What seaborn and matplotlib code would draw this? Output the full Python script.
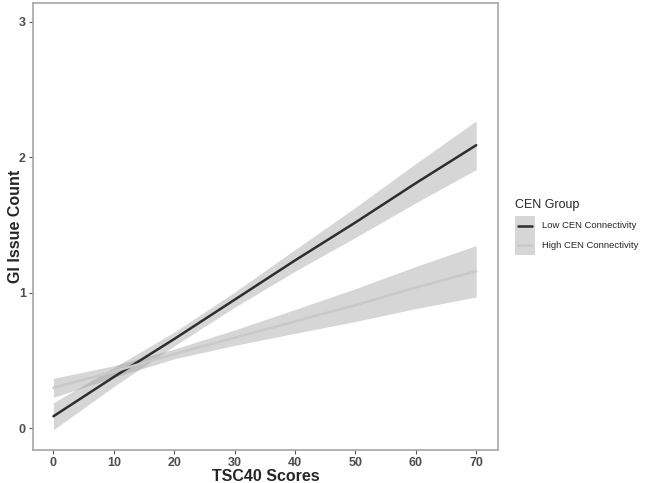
import matplotlib
matplotlib.use("Agg")
import matplotlib.pyplot as plt
import numpy as np
import pandas as pd
import seaborn as sns
from matplotlib.lines import Line2D
from matplotlib.patches import Patch, Rectangle

# values
scores = [0, 10, 20, 30, 40, 50, 60, 70]
groups = ['Low CEN Connectivity', 'High CEN Connectivity']
fit_low = [0.09, 0.38, 0.66, 0.95, 1.24, 1.52, 1.81, 2.09]
fit_high = [0.30, 0.42, 0.55, 0.67, 0.79, 0.91, 1.04, 1.16]
halfwidth_low = [0.10, 0.070, 0.051, 0.056, 0.080, 0.111, 0.145, 0.18]
halfwidth_high = [0.07, 0.043, 0.036, 0.057, 0.088, 0.121, 0.155, 0.19]

line_colors = {'Low CEN Connectivity': '#2e2e2e',
               'High CEN Connectivity': '#c9c9c9'}
band_color = '#999999'


class KeyHandler:
    """ggplot-like legend key: grey box with a line through the middle."""

    def legend_artist(self, legend, orig_handle, fontsize, handlebox):
        patch, line = orig_handle
        x0, y0 = -handlebox.xdescent, -handlebox.ydescent
        w, h = handlebox.width, handlebox.height
        tr = handlebox.get_transform()
        rect = Rectangle((x0, y0), w, h, facecolor=patch.get_facecolor(),
                         linewidth=0, transform=tr)
        ln = Line2D([x0 + 0.17 * w, x0 + 0.83 * w], [y0 + h / 2] * 2,
                    color=line.get_color(), linewidth=line.get_linewidth(),
                    transform=tr)
        handlebox.add_artist(rect)
        handlebox.add_artist(ln)
        return rect


df = pd.DataFrame({
    'TSC40': scores * 2,
    'GI': fit_low + fit_high,
    'group': [groups[0]] * len(scores) + [groups[1]] * len(scores),
})

sns.set_style('white')
plt.rcParams['font.family'] = ['Liberation Sans', 'DejaVu Sans']

fig = plt.figure(figsize=(6.45, 4.83), dpi=100)
ax = fig.add_axes([0.051, 0.068, 0.721, 0.926])

for fit, hw in [(fit_low, halfwidth_low), (fit_high, halfwidth_high)]:
    lo = np.array(fit) - np.array(hw)
    hi = np.array(fit) + np.array(hw)
    ax.fill_between(scores, lo, hi, color=band_color, alpha=0.4,
                    linewidth=0)

sns.lineplot(data=df, x='TSC40', y='GI', hue='group', hue_order=groups,
             palette=line_colors, linewidth=1.8, legend=False, ax=ax,
             zorder=3)

ax.set_xlim(-3.4, 73.6)
ax.set_ylim(-0.16, 3.14)
ax.set_xticks(range(0, 71, 10))
ax.set_yticks([0, 1, 2, 3])
ax.set_xlabel('TSC40 Scores', fontsize=11.5, fontweight='bold',
              labelpad=0)
ax.set_ylabel('GI Issue Count', fontsize=11.5, fontweight='bold')
ax.yaxis.set_label_coords(-0.022, 0.5)
ax.tick_params(axis='both', length=3, width=0.8, color='#555555',
               labelsize=9, labelcolor='#4d4d4d', pad=2, bottom=True,
               left=True)
for lab in ax.get_xticklabels() + ax.get_yticklabels():
    lab.set_fontweight('bold')
for sp in ax.spines.values():
    sp.set_color('#a6a6a6')
    sp.set_linewidth(1.2)

handles = [(Patch(facecolor=band_color, alpha=0.4),
            Line2D([], [], color=line_colors[g], linewidth=1.8))
           for g in groups]
leg = fig.legend(handles, groups, title='CEN Group',
                 handler_map={tuple: KeyHandler()},
                 loc='upper left', bbox_to_anchor=(0.7927, 0.596),
                 frameon=False, fontsize=6.8, title_fontsize=9,
                 handlelength=2.1, handleheight=2.8, labelspacing=0,
                 handletextpad=0.7, borderaxespad=0)
leg._legend_box.align = 'left'
leg._legend_box.sep = 3.5

fig.savefig('out.png', dpi=100)
